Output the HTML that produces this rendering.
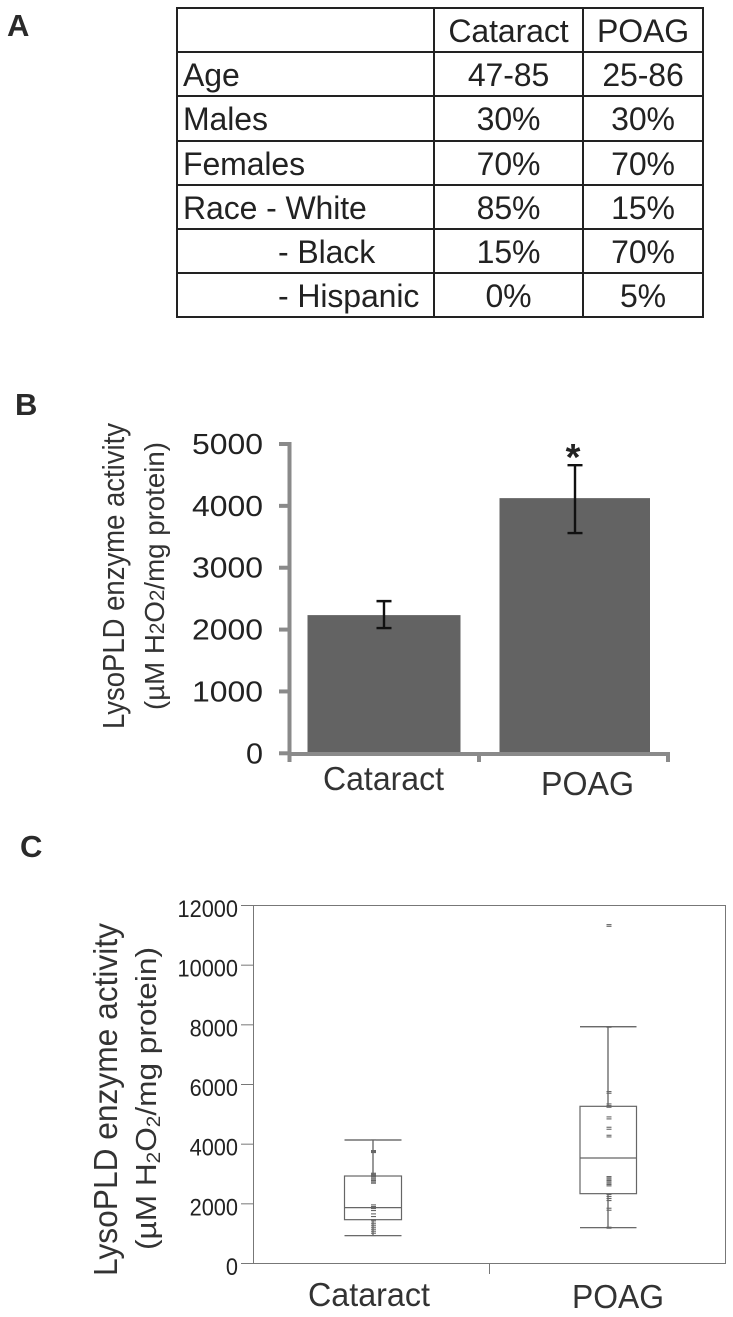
<!DOCTYPE html>
<html lang="en">
<head>
<meta charset="utf-8">
<title>LysoPLD enzyme activity: Cataract vs POAG</title>
<style>
html,body{margin:0;padding:0;background:#fff;}
body{position:relative;width:733px;height:1317px;overflow:hidden;font-family:"Liberation Sans",sans-serif;color:#222;}
#charts{position:absolute;left:0;top:0;}
#demographics{position:absolute;left:176px;top:7px;width:526px;height:310px;border-collapse:collapse;table-layout:fixed;font-size:32px;letter-spacing:-0.1px;}
#demographics td{border:2px solid #222;height:44.2px;padding:2px 0 0 0;box-sizing:border-box;line-height:40px;text-align:center;white-space:nowrap;overflow:hidden;}
#demographics td.lab{text-align:left;padding-left:5px;}
#demographics td.ind{text-align:left;padding-left:100px;}
</style>
</head>
<body>
<table id="demographics">
<colgroup><col style="width:257px"><col style="width:149px"><col style="width:120px"></colgroup>
<tr><td></td><td>Cataract</td><td>POAG</td></tr>
<tr><td class="lab">Age</td><td>47-85</td><td>25-86</td></tr>
<tr><td class="lab">Males</td><td>30%</td><td>30%</td></tr>
<tr><td class="lab">Females</td><td>70%</td><td>70%</td></tr>
<tr><td class="lab">Race - White</td><td>85%</td><td>15%</td></tr>
<tr><td class="ind">- Black</td><td>15%</td><td>70%</td></tr>
<tr><td class="ind">- Hispanic</td><td>0%</td><td>5%</td></tr>
</table>

<svg id="charts" width="733" height="1317" viewBox="0 0 733 1317" xmlns="http://www.w3.org/2000/svg" font-family="'Liberation Sans',sans-serif">
  <text x="7" y="36" font-size="31" font-weight="bold" fill="#2a2a2a">A</text>
  <text x="15" y="415" font-size="31" font-weight="bold" fill="#2a2a2a">B</text>
  <text x="20" y="857" font-size="31" font-weight="bold" fill="#2a2a2a">C</text>

  <g id="panelB"></g>
  <text transform="translate(124,729) rotate(-90)" font-size="31" textLength="306" lengthAdjust="spacingAndGlyphs" fill="#333">LysoPLD enzyme activity</text>
  <text transform="translate(164,710) rotate(-90)" font-size="28" textLength="268" lengthAdjust="spacingAndGlyphs" fill="#333">(µM H<tspan font-size="21">2</tspan>O<tspan font-size="21">2</tspan>/mg protein)</text>

  <g id="panelC"></g>
  <text transform="translate(117,1276) rotate(-90)" font-size="33" textLength="353" lengthAdjust="spacingAndGlyphs" fill="#333">LysoPLD enzyme activity</text>
  <text transform="translate(156,1250) rotate(-90)" font-size="29" textLength="303" lengthAdjust="spacingAndGlyphs" fill="#333">(µM H<tspan font-size="19" dy="4">2</tspan><tspan dy="-4">O</tspan><tspan font-size="19" dy="4">2</tspan><tspan dy="-4">/mg protein)</tspan></text>
</svg>

<script>
const NS = 'http://www.w3.org/2000/svg';

// Panel B data
const barCategories = ['Cataract', 'POAG'];
const barValues = [2234, 4125];
const barErrLow = [2024, 3560];
const barErrHigh = [2460, 4657];
const barTicks = [0, 1000, 2000, 3000, 4000, 5000];

// Panel C data
const boxCategories = ['Cataract', 'POAG'];
const boxLow = [916, 1184];
const boxQ1 = [1452, 2324];
const boxMedian = [1855, 3520];
const boxQ3 = [2916, 5252];
const boxHigh = [4123, 7920];
const boxTicks = [0, 2000, 4000, 6000, 8000, 10000, 12000];
const cataractPoints = [4126, 3769, 3736, 3702, 3009, 2976, 2943, 2898, 2853, 2809, 2764, 2719, 2675, 1948, 1892, 1825, 1758, 1646, 1557, 1457, 1412, 1334, 1267, 1200, 1133, 1066, 999, 921];
const poagPoints = [11342, 11286, 7924, 7902, 5746, 5690, 5332, 5276, 5220, 4897, 4830, 4550, 4483, 4282, 4226, 2897, 2853, 2809, 2764, 2719, 2675, 2630, 2585, 2294, 2227, 2160, 2093, 1836, 1769, 1200, 1166];

function mk(parent, tag, attrs, text) {
  const el = document.createElementNS(NS, tag);
  for (const k in attrs) el.setAttribute(k, attrs[k]);
  if (text !== undefined) el.textContent = text;
  parent.appendChild(el);
  return el;
}

/* ---------- Panel B ---------- */
(function () {
  const g = document.getElementById('panelB');
  const yB = v => 753.3 - v * (309.3 / 5000);
  const catLeft = [307.5, 499.5];
  const barW = [153, 150.5];
  const catCenter = [384, 575];
  const labelX = [323, 541];
  const labelW = [121, 93];
  const labelY = [790, 795];
  const grey = '#8a8a8a';

  barTicks.forEach(function (t) {
    const tick = mk(g, 'line', { x1: 279, x2: 291, y1: yB(t), y2: yB(t), stroke: grey, 'stroke-width': 4 });
    
    
    const lab = mk(g, 'text', { x: 263, y: yB(t) + 10, 'font-size': 29, 'text-anchor': 'end', fill: '#222' }, String(t));
    lab.setAttribute('textLength', t > 0 ? 71 : 17);
    lab.setAttribute('lengthAdjust', 'spacingAndGlyphs');
    
    
  });

  barValues.forEach(function (v, i) {
    const bar = mk(g, 'rect', { x: catLeft[i], y: yB(v), width: barW[i], height: yB(0) - yB(v), fill: '#636363' });
    
    
  });

  const yAxis = mk(g, 'line', { x1: 289.5, x2: 289.5, y1: 442, y2: 762, stroke: grey, 'stroke-width': 4 });
  
  
  const xAxis = mk(g, 'path', { d: 'M288 754H668V762M479 754V762', fill: 'none', stroke: grey, 'stroke-width': 4 });
  
  

  barValues.forEach(function (v, i) {
    const cx = catCenter[i];
    const err = mk(g, 'path', {
      d: 'M' + (cx - 7.5) + ' ' + yB(barErrHigh[i]) + 'H' + (cx + 7.5) + 'M' + cx + ' ' + yB(barErrHigh[i]) + 'V' + yB(barErrLow[i]) + 'M' + (cx - 7.5) + ' ' + yB(barErrLow[i]) + 'H' + (cx + 7.5),
      fill: 'none', stroke: '#111', 'stroke-width': 2.4
    });
    
    
    const lab = mk(g, 'text', { x: labelX[i], y: labelY[i], 'font-size': 33, textLength: labelW[i], lengthAdjust: 'spacingAndGlyphs', fill: '#333' }, barCategories[i]);
    
    
  });

  const star = mk(g, 'text', { x: 573, y: 470, 'font-size': 38, 'font-weight': 'bold', 'text-anchor': 'middle', fill: '#222' }, '*');
  
  
})();

/* ---------- Panel C ---------- */
(function () {
  const g = document.getElementById('panelC');
  const yC = v => 1263 - v * (358 / 12000);
  const boxLeft = [344.5, 580];
  const boxW = [57, 56.5];
  const whiskerX = [373, 608];
  const pointX = [373.5, 609];
  const labelX = [308, 572];
  const labelW = [122, 92];
  const labelY = [1306, 1308];
  const pointSets = [cataractPoints, poagPoints];
  const line = '#777';

  const frame = mk(g, 'rect', { x: 253.5, y: 905.5, width: 472, height: 358, fill: '#fff', stroke: line, 'stroke-width': 1 });
  
  

  boxTicks.forEach(function (t) {
    const tick = mk(g, 'line', { x1: 241, x2: 253.5, y1: yC(t) + 0.5, y2: yC(t) + 0.5, stroke: line, 'stroke-width': 1 });
    
    
    const lab = mk(g, 'text', { x: 238, y: yC(t) + 12, 'font-size': 24, 'text-anchor': 'end', fill: '#222' }, String(t));
    lab.setAttribute('textLength', String(t).length * 12.1);
    lab.setAttribute('lengthAdjust', 'spacingAndGlyphs');
    
    
  });

  const mid = mk(g, 'line', { x1: 489.5, x2: 489.5, y1: 1263, y2: 1274, stroke: line, 'stroke-width': 1 });
  
  

  boxCategories.forEach(function (c, i) {
    const l = boxLeft[i], w = boxW[i], key = c.toLowerCase();
    const wh = mk(g, 'path', {
      d: 'M' + whiskerX[i] + ' ' + yC(boxHigh[i]) + 'V' + yC(boxQ3[i]) + 'M' + whiskerX[i] + ' ' + yC(boxQ1[i]) + 'V' + yC(boxLow[i]) +
         'M' + l + ' ' + yC(boxHigh[i]) + 'h' + w + 'M' + l + ' ' + yC(boxLow[i]) + 'h' + w,
      fill: 'none', stroke: '#555', 'stroke-width': 1.2
    });
    
    
    const box = mk(g, 'rect', { x: l, y: yC(boxQ3[i]), width: w, height: yC(boxQ1[i]) - yC(boxQ3[i]), fill: 'none', stroke: '#666', 'stroke-width': 1.2 });
    
    
    const med = mk(g, 'line', { x1: l, x2: l + w, y1: yC(boxMedian[i]), y2: yC(boxMedian[i]), stroke: '#666', 'stroke-width': 1.2 });
    
    
    pointSets[i].forEach(function (p) {
      const m = mk(g, 'line', { x1: pointX[i] - 2.5, x2: pointX[i] + 2.5, y1: yC(p), y2: yC(p), stroke: '#666', 'stroke-width': 1.1 });
      
      
    });
    const lab = mk(g, 'text', { x: labelX[i], y: labelY[i], 'font-size': 33, textLength: labelW[i], lengthAdjust: 'spacingAndGlyphs', fill: '#333' }, c);
    
    
  });
})();
</script>
</body>
</html>
